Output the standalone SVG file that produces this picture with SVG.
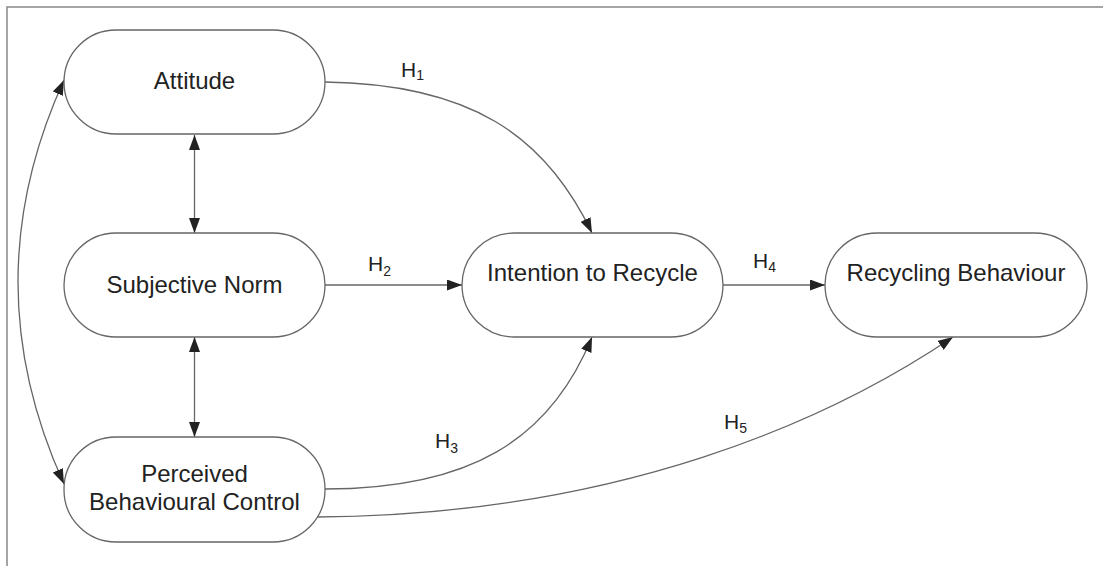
<svg xmlns="http://www.w3.org/2000/svg" width="1103" height="566" viewBox="0 0 1103 566">
<style>
.node{fill:#fff;stroke:#666;stroke-width:1.3}
.lbl{font-family:"Liberation Sans",Arial,sans-serif;font-size:24px;fill:#222;text-anchor:middle}
.h{font-family:"Liberation Sans",Arial,sans-serif;font-size:21px;fill:#222}
.sub{font-size:14px}
.edge{fill:none;stroke:#666;stroke-width:1.3}
.frame{fill:none;stroke:#888;stroke-width:1.5}
</style>
<defs>
<marker id="arr" markerUnits="userSpaceOnUse" markerWidth="15" markerHeight="11" refX="15" refY="5.5" orient="auto-start-reverse" viewBox="0 0 15 11">
<path d="M0,0 L15,5.5 L0,11 z" fill="#222"/>
</marker>
</defs>
<path class="frame" d="M7,566 V7 H1103"/>
<g id="connectors">
<path class="edge" d="M194.5,135 V233" marker-start="url(#arr)" marker-end="url(#arr)"/>
<path class="edge" d="M194.5,337 V437" marker-start="url(#arr)" marker-end="url(#arr)"/>
<path class="edge" d="M64,80 Q-28,282 64,484" marker-start="url(#arr)" marker-end="url(#arr)"/>
<path class="edge" d="M325,82 C470,84 545,135 592,233" marker-end="url(#arr)"/>
<path class="edge" d="M325,285 H462" marker-end="url(#arr)"/>
<path class="edge" d="M325,489 C470,489 550,440 592,337" marker-end="url(#arr)"/>
<path class="edge" d="M723,285 H825" marker-end="url(#arr)"/>
<path class="edge" d="M317,517 C620,515 830,420 953,337" marker-end="url(#arr)"/>
<text class="h" x="401" y="77">H<tspan class="sub" dy="3">1</tspan></text>
<text class="h" x="368" y="271">H<tspan class="sub" dy="5">2</tspan></text>
<text class="h" x="435" y="448">H<tspan class="sub" dy="5">3</tspan></text>
<text class="h" x="753" y="268">H<tspan class="sub" dy="4">4</tspan></text>
<text class="h" x="724" y="429">H<tspan class="sub" dy="4">5</tspan></text>
</g>
<g id="attitude">
<rect class="node" x="64" y="30" width="261" height="104" rx="52"/>
<text class="lbl" x="194.5" y="89">Attitude</text>
</g>
<g id="subjective-norm">
<rect class="node" x="64" y="233" width="261" height="104" rx="52"/>
<text class="lbl" x="194.5" y="293">Subjective Norm</text>
</g>
<g id="pbc">
<rect class="node" x="64" y="437" width="261" height="105" rx="52"/>
<text class="lbl" x="194.5" y="482">Perceived</text>
<text class="lbl" x="194.5" y="510">Behavioural Control</text>
</g>
<g id="intention">
<rect class="node" x="462" y="233" width="261" height="104" rx="52"/>
<text class="lbl" x="592.5" y="281">Intention to Recycle</text>
</g>
<g id="behaviour">
<rect class="node" x="825" y="233" width="262" height="104" rx="52"/>
<text class="lbl" x="956" y="281">Recycling Behaviour</text>
</g>
</svg>
